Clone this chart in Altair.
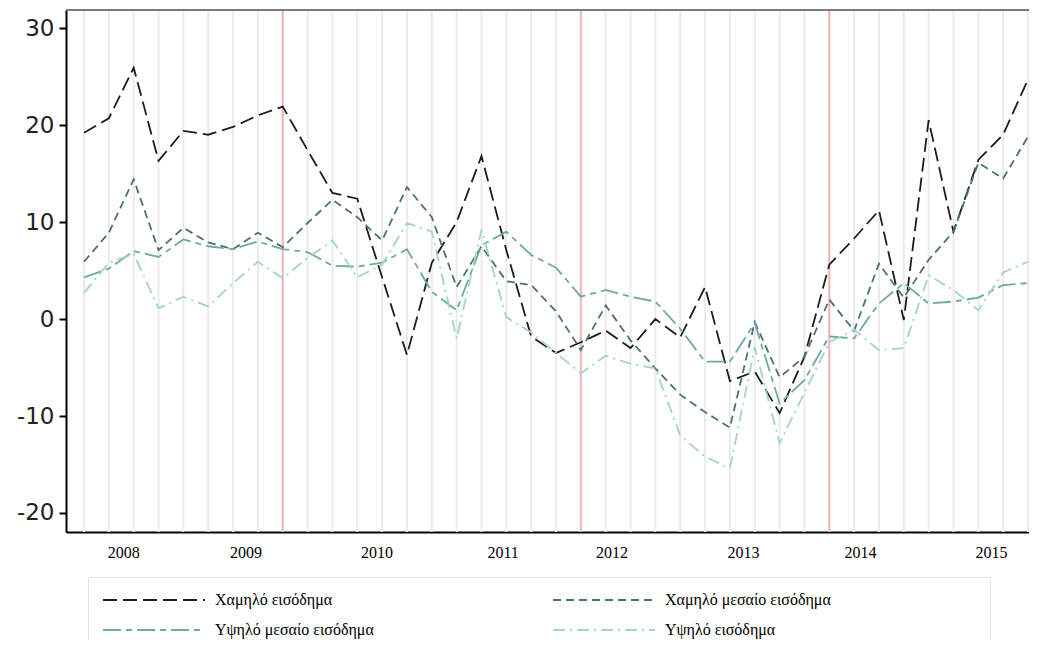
import altair as alt
import pandas as pd

# ---- data ----
names = ["Χαμηλό εισόδημα", "Χαμηλό μεσαίο εισόδημα", "Υψηλό μεσαίο εισόδημα", "Υψηλό εισόδημα"]

low = [19.2, 20.7, 25.9, 16.3, 19.4, 19.0, 19.8, 21.0, 21.9, 17.4,
       13.0, 12.4, 4.3, -3.7, 5.8, 10.0, 16.8, 7.1, -1.8, -3.5,
       -2.4, -1.2, -3.0, 0.0, -1.9, 3.3, -6.4, -5.4, -9.7, -3.9,
       5.6, 8.3, 11.2, -0.1, 20.5, 9.0, 16.4, 19.0, 24.7]
low_mid = [5.9, 8.9, 14.4, 7.1, 9.4, 7.9, 7.2, 8.9, 7.4, 9.9,
           12.3, 10.5, 8.1, 13.6, 10.5, 3.3, 7.5, 3.9, 3.5, 0.8,
           -3.2, 1.4, -2.2, -5.1, -7.8, -9.6, -11.2, -0.3, -6.0, -3.9,
           2.0, -1.2, 5.7, 2.2, 6.1, 9.0, 16.1, 14.5, 18.8]
high_mid = [4.3, 5.2, 7.0, 6.4, 8.2, 7.5, 7.2, 8.0, 7.2, 6.9,
            5.5, 5.4, 5.8, 7.2, 2.8, 0.9, 7.6, 9.0, 6.6, 5.3,
            2.3, 3.0, 2.3, 1.8, -1.0, -4.4, -4.4, -0.4, -8.7, -6.3,
            -1.8, -2.0, 1.6, 3.7, 1.6, 1.8, 2.2, 3.5, 3.7]
high = [2.7, 5.8, 6.7, 1.1, 2.3, 1.3, 3.7, 5.9, 4.2, 6.3,
        8.1, 4.3, 5.6, 9.9, 9.0, -2.0, 9.2, 0.2, -1.4, -3.5,
        -5.6, -3.8, -4.6, -5.1, -12.0, -14.2, -15.4, -2.9, -12.8, -7.6,
        -2.4, -1.1, -3.2, -3.0, 4.5, 3.0, 0.9, 4.8, 5.9]

periods = list(range(len(low)))
red_marks = [8, 20, 30]
years = ["2008", "2009", "2010", "2011", "2012", "2013", "2014", "2015"]
year_ticks = [1.58, 6.50, 11.77, 16.85, 21.23, 26.53, 31.24, 36.51]
y_ticks = [-20, -10, 0, 10, 20, 30]

colors = ["#1c1c1c", "#4a7176", "#6fa8a7", "#9fd6c6"]
dashes = [[14, 6], [8, 5], [18, 5, 6, 5], [12, 5, 2, 5]]

# legend is filled column by column: order entries so rows read as in the reference
legend_order = [0, 2, 1, 3]
dom = [names[i] for i in legend_order]
col_range = [colors[i] for i in legend_order]
dash_range = [dashes[i] for i in legend_order]

rows = []
for name, vals in zip(names, [low, low_mid, high_mid, high]):
    for i, v in zip(periods, vals):
        rows.append({"series": name, "idx": i, "value": v})
df = pd.DataFrame(rows)
grid_df = pd.DataFrame({"idx": periods})
red_df = pd.DataFrame({"idx": red_marks})

label_expr = "[" + ",".join("'%s'" % y for y in years) + "][round(datum.index * %d)]" % (len(years) - 1)

x_enc = alt.X(
    "idx:Q",
    scale=alt.Scale(domain=[-0.725, 38.04], nice=False, zero=False),
    axis=alt.Axis(values=year_ticks, labelExpr=label_expr, title=None, grid=False,
                  ticks=False, domainColor="black", domainWidth=2,
                  labelFont="Liberation Serif", labelFontSize=16, labelColor="black",
                  labelPadding=12),
)

# invisible blank characters widen the legend columns to the reference's box width
blank_tail = "\u2800" * 12
legend = alt.Legend(
    title=None, orient="none", legendX=22, legendY=567, columns=2, gridAlign="all",
    columnPadding=24, rowPadding=14, padding=15, strokeColor="#e2e2e2", fillColor="white",
    symbolType="M-10,0H10", symbolSize=104, symbolStrokeWidth=2, symbolOffset=43,
    labelOffset=53, labelFont="Liberation Serif", labelFontSize=16, labelColor="black",
    labelLimit=600, labelExpr="datum.label + '%s'" % blank_tail,
)

grid = alt.Chart(grid_df).mark_rule(color="#ebebeb", strokeWidth=2).encode(x=x_enc)
reds = alt.Chart(red_df).mark_rule(color="#f3b4b4", strokeWidth=2).encode(x=x_enc)
top = alt.Chart(grid_df).mark_rule(color="#7a7a7a", strokeWidth=2).encode(y=alt.value(0))

lines = alt.Chart(df).mark_line(strokeWidth=1.8).encode(
    x=x_enc,
    y=alt.Y("value:Q",
            scale=alt.Scale(domain=[-21.96, 31.86], nice=False, zero=False),
            axis=alt.Axis(values=y_ticks, labelExpr="toString(datum.value)", title=None,
                          grid=False, domainColor="black", domainWidth=2, tickColor="black",
                          tickWidth=2, tickSize=7, labelFont="DejaVu Sans", labelFontSize=23,
                          labelColor="#222222", labelPadding=5)),
    color=alt.Color("series:N", scale=alt.Scale(domain=dom, range=col_range), legend=legend),
    strokeDash=alt.StrokeDash("series:N", scale=alt.Scale(domain=dom, range=dash_range), legend=legend),
    detail="series:N",
)

chart = alt.layer(grid, reds, top, lines).properties(
    width=963, height=522,
    padding={"left": 58, "top": 2, "right": 0, "bottom": 108},
    autosize=alt.AutoSizeParams(type="none"),
).configure_view(stroke=None)

chart.save("out.html", embed_options={"renderer": "svg", "actions": False})
